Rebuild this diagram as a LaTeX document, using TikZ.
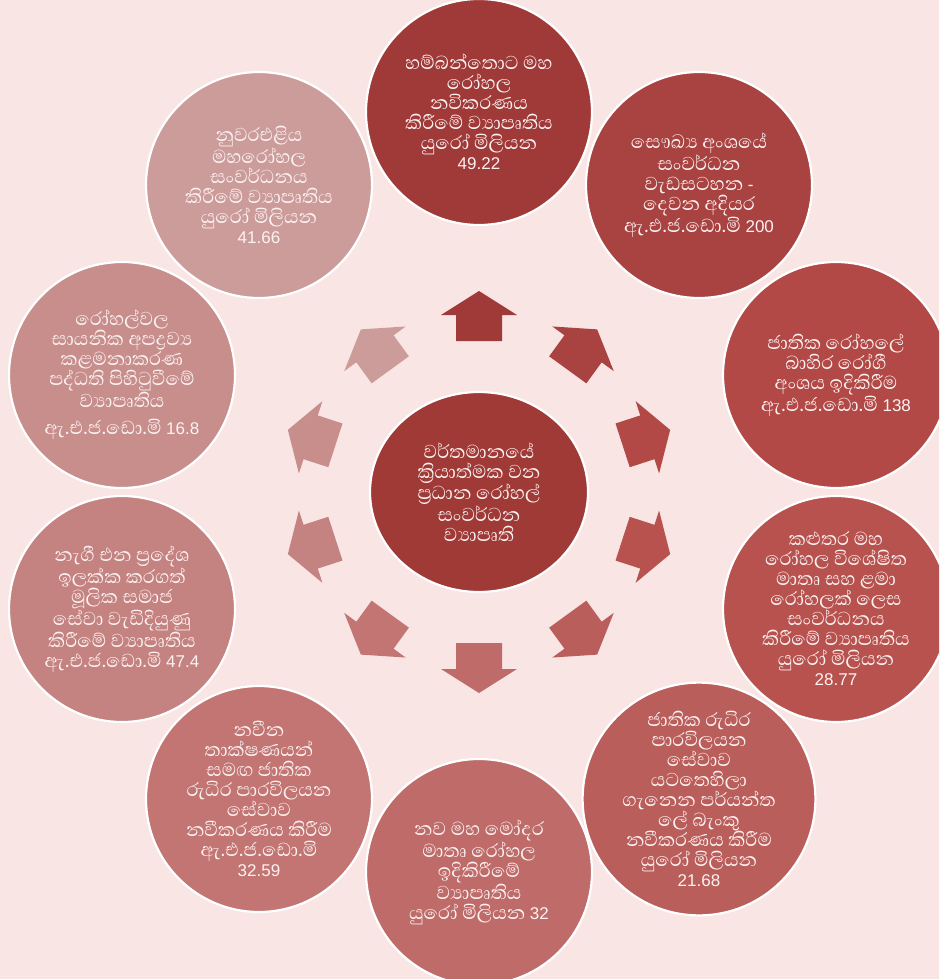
\documentclass[tikz,border=0pt]{standalone}
\usepackage{fontspec}
\usetikzlibrary{shapes.geometric}
\newfontfamily\sinfont[Script=Sinhala]{Abhaya Libre}
\newfontfamily\latfont{Liberation Sans}
\newcommand{\dg}[1]{{\latfont\fontsize{17}{19.5}\selectfont #1}}
\definecolor{bg}{HTML}{F8E5E4}
\definecolor{txt}{HTML}{FCF2F2}
\definecolor{c0}{HTML}{A03A38}
\definecolor{c1}{HTML}{A94341}
\definecolor{c2}{HTML}{B24946}
\definecolor{c3}{HTML}{B7524F}
\definecolor{c4}{HTML}{BA5E5B}
\definecolor{c5}{HTML}{BE6B69}
\definecolor{c6}{HTML}{C27573}
\definecolor{c7}{HTML}{C48280}
\definecolor{c8}{HTML}{C78E8C}
\definecolor{c9}{HTML}{CC9C9B}
\definecolor{chub}{HTML}{9F3A37}
\tikzset{
  ringcircle/.style={circle, draw=white, line width=2.2pt, minimum size=226pt, inner sep=0pt,
    text=txt, align=center, font=\sinfont\fontsize{24}{20}\selectfont},
  hubnode/.style={ellipse, draw=white, line width=2.2pt, minimum width=218pt, minimum height=200pt,
    inner sep=0pt, fill=chub, text=txt, align=center, font=\sinfont\fontsize{24}{20}\selectfont},
}
\begin{document}
\begin{tikzpicture}[x=1pt,y=-1pt]
\useasboundingbox (0,0) rectangle (939,979);
\fill[bg] (0,0) rectangle (939,979);
\clip (0,0) rectangle (939,979);

\node[hubnode] (hub) at (479,492) {වර්තමානයේ\\ක්^^^^200dරියාත්මක වන\\ප්^^^^200dරධාන රෝහල්\\සංවර්ධන\\ව්^^^^200dයාපෘති};

\foreach \i/\col in {0/c0,1/c1,2/c2,3/c3,4/c4,5/c5,6/c6,7/c7,8/c8,9/c9}{
  \begin{scope}[shift={(hub.center)}, rotate={90-36*\i}]
    \fill[\col] (151,-23) -- (177,-23) -- (177,-38) -- (201,0) -- (177,38) -- (177,23) -- (151,23) -- cycle;
  \end{scope}
}

\node[ringcircle, fill=c0] (n0) at (479,112) {හම්බන්තොට මහ\\රෝහල\\නවිකරණය\\කිරීමේ ව්^^^^200dයාපෘතිය\\යුරෝ මිලියන\\\dg{49.22}};
\node[ringcircle, fill=c1] (n1) at (699,185) {සෞඛ්^^^^200dය අංශයේ\\සංවර්ධන\\වැඩසටහන \dg{-}\\දෙවන අදියර\\ඇ.එ.ජ.ඩො.මි \dg{200}};
\node[ringcircle, fill=c2] (n2) at (836,375) {ජාතික රෝහලේ\\බාහිර රෝගී\\අංශය ඉදිකිරීම\\ඇ.එ.ජ.ඩො.මි \dg{138}};
\node[ringcircle, fill=c3] (n3) at (836,609) {කළුතර මහ\\රෝහල විශේෂිත\\මාතෘ සහ ළමා\\රෝහලක් ලෙස\\සංවර්ධනය\\කිරීමේ ව්^^^^200dයාපෘතිය\\යුරෝ මිලියන\\\dg{28.77}};
\node[ringcircle, fill=c4] (n4) at (699,799) {ජාතික රුධිර\\පාරවිලයන\\සේවාව\\යටතෙහිලා\\ගැනෙන පර්යන්ත\\ලේ බැංකු\\නවීකරණය කිරීම\\යුරෝ මිලියන\\\dg{21.68}};
\node[ringcircle, fill=c5] (n5) at (479,872) {නව මහ මෝදර\\මාතෘ රෝහල\\ඉදිකිරීමේ\\ව්^^^^200dයාපෘතිය\\යුරෝ මිලියන \dg{32}};
\node[ringcircle, fill=c6] (n6) at (259,799) {නවීන\\තාක්ෂණයන්\\සමඟ ජාතික\\රුධිර පාරවිලයන\\සේවාව\\නවීකරණය කිරීම\\ඇ.එ.ජ.ඩො.මි\\\dg{32.59}};
\node[ringcircle, fill=c7] (n7) at (122,609) {නැගී එන ප්^^^^200dරදේශ\\ඉලක්ක කරගත්\\මූලික සමාජ\\සේවා වැඩිදියුණු\\කිරීමේ ව්^^^^200dයාපෘතිය\\ඇ.එ.ජ.ඩො.මි \dg{47.4}};
\node[ringcircle, fill=c8] (n8) at (122,375) {රෝහල්වල\\සායනික අපද්^^^^200dරව්^^^^200dය\\කළමනාකරණ\\පද්ධති පිහිටුවීමේ\\ව්^^^^200dයාපෘතිය\\[7pt]ඇ.එ.ජ.ඩො.මි \dg{16.8}};
\node[ringcircle, fill=c9] (n9) at (259,185) {නුවරඑළිය\\මහරෝහල\\සංවර්ධනය\\කිරීමේ ව්^^^^200dයාපෘතිය\\යුරෝ මිලියන\\\dg{41.66}};
\end{tikzpicture}
\end{document}
